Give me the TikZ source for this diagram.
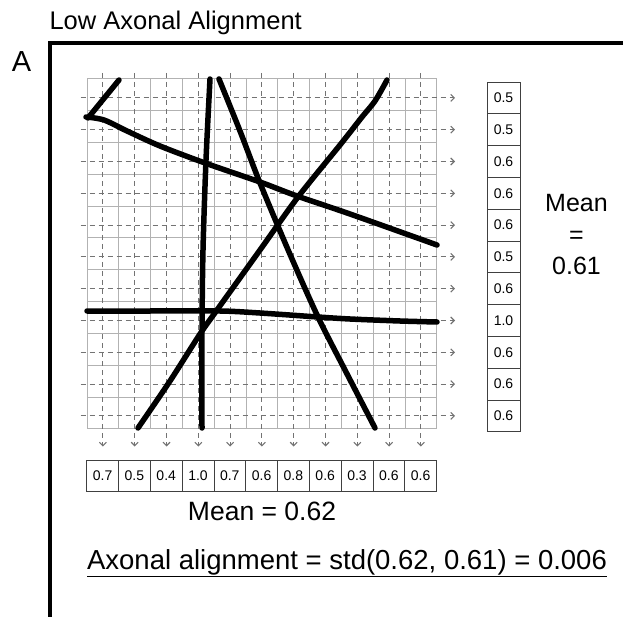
\documentclass[tikz,border=0pt]{standalone}
\usepackage{fontspec}
\setmainfont{Liberation Sans}
\usetikzlibrary{arrows.meta,positioning}
\begin{document}
\begin{tikzpicture}[x=1pt, y=-1pt, >={Straight Barb[length=3.5pt,width=7pt]},
  every node/.style={font=\fontsize{14}{16}\selectfont},
  gridline/.style={gray!60, line width=1pt},
  guideline/.style={black!55, line width=1.1pt, dash pattern=on 5pt off 4pt, ->},
  axon/.style={line width=5.5pt, line cap=round, line join=round},
  valbox/.style={draw=black!75, line width=0.8pt, inner sep=0pt, minimum width=31.8pt, minimum height=31pt},
  rowbox/.style={valbox, minimum width=33pt, minimum height=31.8pt},
  bigtext/.style={font=\fontsize{26.5}{31.5}\selectfont}]
\useasboundingbox (0,0) rectangle (623,617);
% panel frame and titles
\draw[line width=4pt] (50,617) -- (50,43) -- (623,43);
\node[font=\fontsize{25.5}{28}\selectfont, anchor=base west] (title) at (46,30) {Low Axonal Alignment};
\node[font=\fontsize{29}{32}\selectfont, anchor=base] (panel) at (21.5,72) {A};
% solid grid
\foreach \k in {0,...,11} {
  \draw[gridline] ({87+31.8*\k},79) -- ({87+31.8*\k},429);
  \draw[gridline] (87,{79+31.8*\k}) -- (437,{79+31.8*\k});
}
% dashed sampling lines
\foreach \k in {0,...,10} {
  \draw[guideline] ({102.9+31.8*\k},73) -- ({102.9+31.8*\k},446.5);
  \draw[guideline] (80.5,{97.9+31.8*\k}) -- (455,{97.9+31.8*\k});
}
% axons
\draw[axon] (119,80) -- (88,118);
\draw[axon] plot[smooth] coordinates {(86,117) (104,120) (127,131) (160,146) (205,163) (260,182) (297,196) (350,214) (437,245)};
\draw[axon] plot[smooth] coordinates {(210,79) (206,160) (203,250) (202,330) (202,428)};
\draw[axon] plot[smooth] coordinates {(219,79) (240,131) (260,183) (289,252) (318,317) (345,370) (375,428)};
\draw[axon] plot[smooth] coordinates {(138,428) (170,381) (200,334) (217,310) (260,250) (298,197) (340,145) (362,117) (375,101) (387,80)};
\draw[axon] plot[smooth] coordinates {(87,311) (150,311) (220,311) (260,313) (318,317) (350,319) (400,321) (437,322)};
% column values
\foreach \v [count=\i from 0] in {0.7,0.5,0.4,1.0,0.7,0.6,0.8,0.6,0.3,0.6,0.6}
  \node[valbox] (colval\i) at ({102.6+31.8*\i},475.5) {\v};
% row values
\foreach \v [count=\i from 0] in {0.5,0.5,0.6,0.6,0.6,0.5,0.6,1.0,0.6,0.6,0.6}
  \node[rowbox] (rowval\i) at (503.5,{97.9+31.8*\i}) {\v};
% means
\node[bigtext, anchor=base] (colmean) at (262,520) {Mean = 0.62};
\node[font=\fontsize{25}{31.5}\selectfont, align=center] (rowmean) at (576.5,235) {Mean\\=\\0.61};
\node[font=\fontsize{27.5}{30}\selectfont, anchor=base] (result) at (347,569) {\underline{Axonal alignment = std(0.62, 0.61) = 0.006}};
\end{tikzpicture}
\end{document}
